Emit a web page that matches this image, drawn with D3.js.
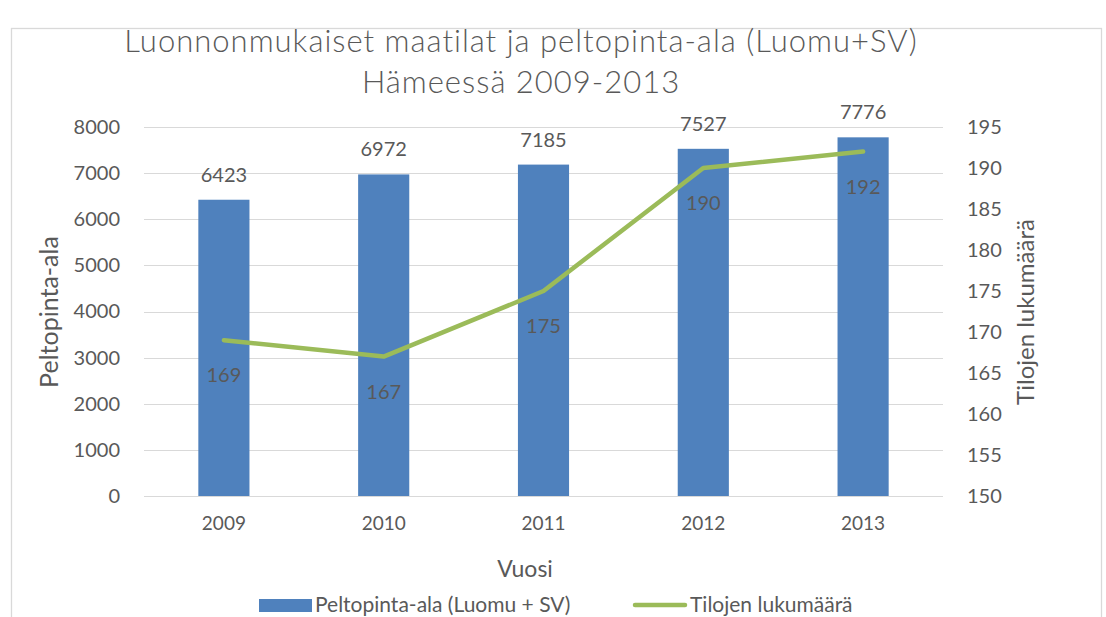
<!DOCTYPE html>
<html>
<head>
<meta charset="utf-8">
<script src="https://cdn.jsdelivr.net/npm/d3@7"></script>
<style>
  body { margin: 0; background: #fff; }
  svg text { font-family: Lato, "Open Sans", sans-serif; fill: #595959; }
</style>
</head>
<body>
<div id="chart"></div>
<script>
const years = ['2009', '2010', '2011', '2012', '2013'];
const fieldArea = [6423, 6972, 7185, 7527, 7776];
const farmCount = [169, 167, 175, 190, 192];
const leftTicks = [0, 1000, 2000, 3000, 4000, 5000, 6000, 7000, 8000];
const rightTicks = [150, 155, 160, 165, 170, 175, 180, 185, 190, 195];
const titleLines = ['Luonnonmukaiset maatilat ja peltopinta-ala (Luomu+SV)', 'Hämeessä 2009-2013'];

const W = 1106, H = 617;
const plot = { left: 144, right: 943, top: 127, bottom: 496 };
const barColor = '#4F81BD';
const lineColor = '#9BBB59';
const gridColor = '#D9D9D9';

const svg = d3.select('#chart').append('svg')
    .attr('width', W)
    .attr('height', H);

// chart frame
svg.append('rect')
    .attr('x', 11.5).attr('y', 28.5)
    .attr('width', 1090).attr('height', 620)
    .attr('fill', 'none')
    .attr('stroke', gridColor)
    .attr('stroke-width', 1.3);

const x = d3.scaleBand()
    .domain(years)
    .range([plot.left, plot.right])
    .paddingInner(0.68)
    .paddingOuter(0.34);

const yLeft = d3.scaleLinear().domain([0, 8000]).range([plot.bottom, plot.top]);
const yRight = d3.scaleLinear().domain([150, 195]).range([plot.bottom, plot.top]);

// gridlines
svg.append('g')
    .selectAll('line')
    .data(leftTicks)
    .enter()
    .append('line')
    .attr('x1', plot.left).attr('x2', plot.right)
    .attr('y1', d => Math.round(yLeft(d)) + 0.5)
    .attr('y2', d => Math.round(yLeft(d)) + 0.5)
    .attr('stroke', gridColor)
    .attr('stroke-width', 1);

// left axis labels
const leftAxis = svg.append('g')
    .attr('transform', `translate(${plot.left - 24},0)`)
    .call(d3.axisLeft(yLeft).tickValues(leftTicks).tickFormat(d3.format('d')).tickSize(0).tickPadding(0));
leftAxis.select('.domain').remove();
leftAxis.selectAll('text')
    .style('font-size', '20px')
    .style('fill', '#595959')
    .style('font-family', 'Lato, sans-serif');

// right axis labels
const rightAxis = svg.append('g')
    .attr('transform', `translate(${plot.right + 24},0)`)
    .call(d3.axisRight(yRight).tickValues(rightTicks).tickSize(0).tickPadding(0));
rightAxis.select('.domain').remove();
rightAxis.selectAll('text')
    .style('font-size', '20px')
    .style('fill', '#595959')
    .style('font-family', 'Lato, sans-serif');

// x axis labels
const xAxis = svg.append('g')
    .attr('transform', `translate(0,${plot.bottom})`)
    .call(d3.axisBottom(x).tickSize(0).tickPadding(21));
xAxis.select('.domain').remove();
xAxis.selectAll('text')
    .style('font-size', '19px')
    .style('fill', '#595959')
    .style('font-family', 'Lato, sans-serif');

// bars
svg.append('g')
    .selectAll('rect')
    .data(years)
    .enter()
    .append('rect')
    .attr('x', d => x(d))
    .attr('width', x.bandwidth())
    .attr('y', (d, i) => yLeft(fieldArea[i]))
    .attr('height', (d, i) => plot.bottom - yLeft(fieldArea[i]))
    .attr('fill', barColor);

// baseline
svg.append('line')
    .attr('x1', plot.left).attr('x2', plot.right)
    .attr('y1', plot.bottom + 0.5).attr('y2', plot.bottom + 0.5)
    .attr('stroke', gridColor);

// bar labels
svg.append('g')
    .selectAll('text')
    .data(years)
    .enter()
    .append('text')
    .attr('x', d => x(d) + x.bandwidth() / 2)
    .attr('y', (d, i) => yLeft(fieldArea[i]) - 18)
    .attr('text-anchor', 'middle')
    .style('font-size', '20px')
    .text((d, i) => fieldArea[i]);

// line
const cx = d => x(d) + x.bandwidth() / 2;
const line = d3.line()
    .x(d => cx(d))
    .y((d, i) => yRight(farmCount[i]));
svg.append('path')
    .datum(years)
    .attr('d', line)
    .attr('fill', 'none')
    .attr('stroke', lineColor)
    .attr('stroke-width', 4.5)
    .attr('stroke-linejoin', 'round')
    .attr('stroke-linecap', 'round');

// line labels
svg.append('g')
    .selectAll('text')
    .data(years)
    .enter()
    .append('text')
    .attr('x', d => cx(d))
    .attr('y', (d, i) => yRight(farmCount[i]) + 42)
    .attr('text-anchor', 'middle')
    .style('font-size', '20px')
    .text((d, i) => farmCount[i]);

// title
svg.append('g')
    .selectAll('text')
    .data(titleLines)
    .enter()
    .append('text')
    .attr('x', 521)
    .attr('y', (d, i) => 52 + i * 41)
    .attr('text-anchor', 'middle')
    .style('font-size', '31px')
    .style('font-weight', 300)
    .style('letter-spacing', '1px')
    .text(d => d);

// axis titles
svg.append('text')
    .attr('x', 525)
    .attr('y', 577)
    .attr('text-anchor', 'middle')
    .style('font-size', '23px')
    .text('Vuosi');

svg.append('text')
    .attr('transform', 'translate(58,312) rotate(-90)')
    .attr('text-anchor', 'middle')
    .style('font-size', '25px')
    .text('Peltopinta-ala');

svg.append('text')
    .attr('transform', 'translate(1034,312) rotate(-90)')
    .attr('text-anchor', 'middle')
    .style('font-size', '24px')
    .text('Tilojen lukumäärä');

// legend
const legend = svg.append('g');
legend.append('rect')
    .attr('x', 259).attr('y', 599)
    .attr('width', 53).attr('height', 13)
    .attr('fill', barColor);
legend.append('text')
    .attr('x', 315).attr('y', 612)
    .style('font-size', '21px')
    .text('Peltopinta-ala (Luomu + SV)');
legend.append('line')
    .attr('x1', 635).attr('x2', 685)
    .attr('y1', 605).attr('y2', 605)
    .attr('stroke', lineColor)
    .attr('stroke-width', 4.5)
    .attr('stroke-linecap', 'round');
legend.append('text')
    .attr('x', 690).attr('y', 612)
    .style('font-size', '21px')
    .text('Tilojen lukumäärä');
</script>
</body>
</html>
